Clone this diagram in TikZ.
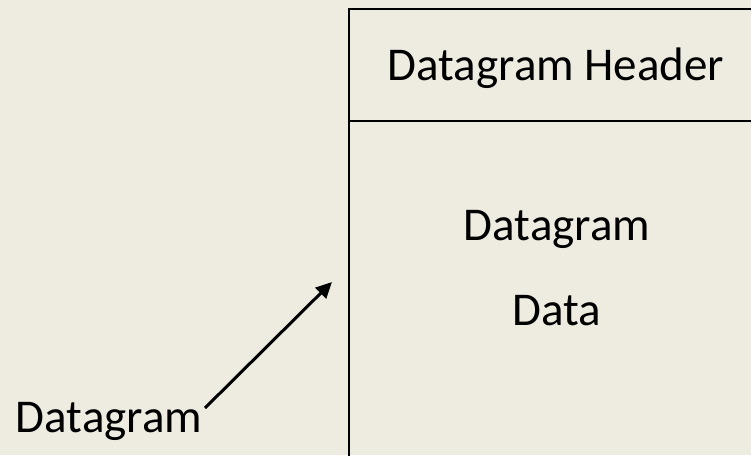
\documentclass[tikz,border=0pt]{standalone}
\usepackage{fontspec}
\setmainfont{Carlito}
\usetikzlibrary{arrows.meta}
\definecolor{paper}{HTML}{EEECE1}
\begin{document}
\begin{tikzpicture}[x=1pt,y=-1pt,font=\fontsize{47}{51}\selectfont,
  txt/.style={anchor=base,inner sep=0pt}]
\useasboundingbox[fill=paper] (0,0) rectangle (751,455);
\clip (0,0) rectangle (751,455);
% the datagram box, running off the page on the right and below
\draw[line width=2.4pt] (760,9)--(349,9)--(349,470);
\draw[line width=2.4pt] (349,121)--(760,121);
\node[txt] (hdr) at (556,80) {Datagram Header};
\node[txt] (body) at (557,240) {Datagram};
\node[txt] (data) at (557,325) {Data};
% label and pointer
\node[txt] (lbl) at (109,432) {Datagram};
\coordinate (tail) at (205,408);
\coordinate (tip) at (332,282);
\draw[line width=3pt,-{Triangle[length=16pt,width=15pt]}] (tail)--(tip);
\end{tikzpicture}
\end{document}
